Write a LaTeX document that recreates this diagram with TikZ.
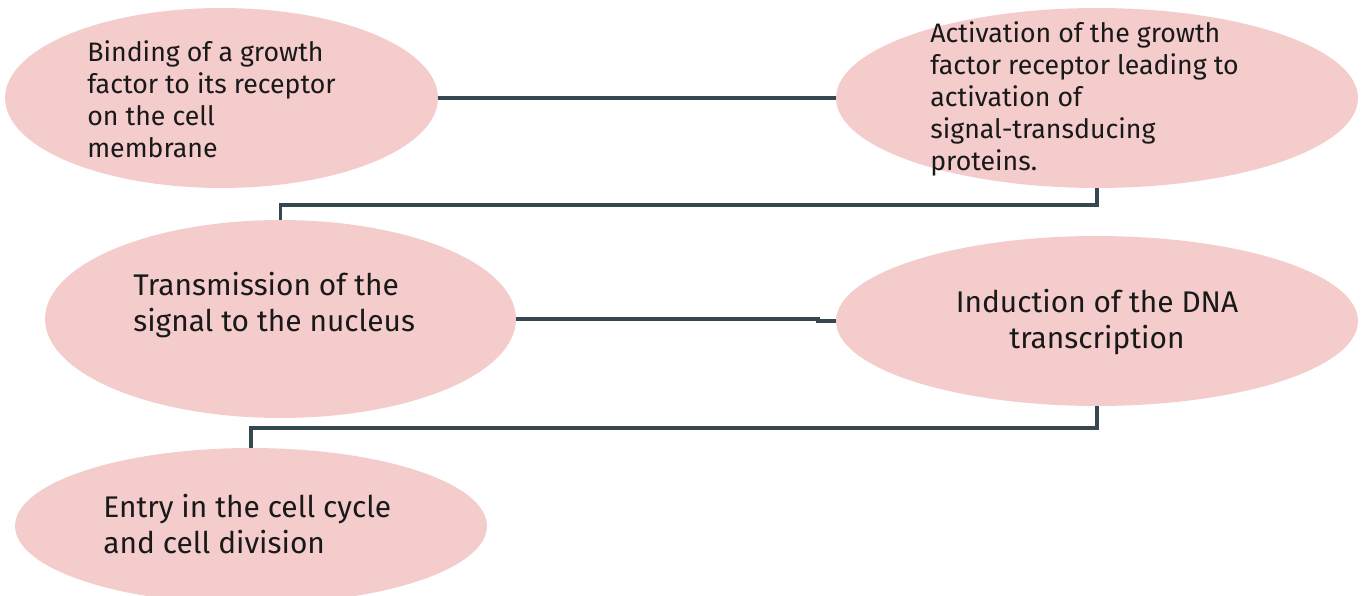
\documentclass[tikz,border=0pt]{standalone}
\usepackage{fontspec}
\setmainfont{Fira Sans}
\usepackage{tikz}
\usetikzlibrary{shapes.geometric,positioning,calc}

\definecolor{blobpink}{HTML}{F4CCCC}
\definecolor{linkgrey}{HTML}{37474F}

\begin{document}
\begin{tikzpicture}[x=0.02cm, y=-0.02cm,
		blob/.style = {ellipse, fill=blobpink, draw=none, inner sep=0pt},
		txt/.style = {align=left, inner sep=0pt, text=black!90, font=\fontsize{15.2}{18.2}\selectfont},
		bigtxt/.style = {txt, font=\fontsize{17}{20.5}\selectfont},
		link/.style = {draw=linkgrey, line width=2.2pt}, ]
	\useasboundingbox (0,0) rectangle (1368,595);
	% ellipses
	\node [blob, minimum width=8.66cm, minimum height=3.6cm] (e1) at (221.5,98) {};
	\node [blob, minimum width=10.44cm, minimum height=3.6cm] (e2) at (1097,98) {};
	\node [blob, minimum width=9.42cm, minimum height=3.96cm] (e3) at (280.5,319) {};
	\node [blob, minimum width=10.44cm, minimum height=3.4cm] (e4) at (1097,321) {};
	\node [blob, minimum width=9.44cm, minimum height=3.12cm] (e5) at (251,526) {};
	% texts
	\node [txt, anchor=north west] (t1) at (87,40) {Binding of a growth\\factor to its receptor\\on the cell\\membrane};
	\node [txt, anchor=north west] (t2) at (930,21) {Activation of the growth\\factor receptor leading to\\activation of\\signal-transducing\\proteins.};
	\node [bigtxt, anchor=north west] (t3) at (133,272) {Transmission of the\\signal to the nucleus};
	\node [bigtxt, align=center, anchor=north] (t4) at (1097,289) {Induction of the DNA\\transcription};
	\node [bigtxt, anchor=north west] (t5) at (103,494) {Entry in the cell cycle\\and cell division};
	% connectors
	\draw [link] (e1.east) -- (e2.west);
	\draw [link] (e2.south) -- ++(0,17) -| (e3.north);
	\draw [link] (e3.east) -- ++(302,0) |- (e4.west);
	\draw [link] (e4.south) -- ++(0,22) -| (e5.north);
\end{tikzpicture}
\end{document}
